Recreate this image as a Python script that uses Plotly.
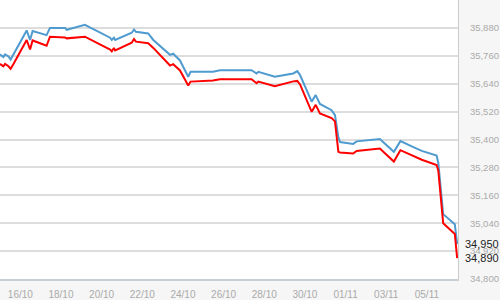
import plotly.graph_objects as go

times = [
    "2021-10-15 00:00", "2021-10-15 04:00", "2021-10-15 06:00", "2021-10-15 10:00",
    "2021-10-15 12:30", "2021-10-15 15:45", "2021-10-16 07:30", "2021-10-16 11:30",
    "2021-10-16 14:30", "2021-10-17 07:00", "2021-10-17 11:00", "2021-10-18 04:45",
    "2021-10-18 06:45", "2021-10-19 04:15", "2021-10-20 10:00", "2021-10-20 12:00",
    "2021-10-20 14:30", "2021-10-20 16:00", "2021-10-21 11:30", "2021-10-21 14:15",
    "2021-10-21 16:30", "2021-10-22 07:00", "2021-10-22 13:00", "2021-10-23 08:45",
    "2021-10-23 12:30", "2021-10-23 20:30", "2021-10-24 06:15", "2021-10-24 09:00",
    "2021-10-25 11:30", "2021-10-25 19:45", "2021-10-27 09:00", "2021-10-27 15:00",
    "2021-10-27 17:00", "2021-10-28 12:30", "2021-10-29 10:15", "2021-10-29 15:00",
    "2021-10-29 18:15", "2021-10-30 08:00", "2021-10-30 12:45", "2021-10-30 17:45",
    "2021-10-31 07:30", "2021-10-31 11:30", "2021-10-31 15:30", "2021-10-31 17:30",
    "2021-11-01 09:00", "2021-11-01 13:00", "2021-11-02 16:30", "2021-11-03 09:00",
    "2021-11-03 16:45", "2021-11-04 10:00", "2021-11-04 18:00", "2021-11-05 11:30",
    "2021-11-05 13:30", "2021-11-05 19:15", "2021-11-06 09:00", "2021-11-06 11:45",
]

blue_values = [
    35766, 35755, 35766, 35757, 35744, 35765, 35869, 35828,
    35867, 35849, 35880, 35880, 35872, 35893, 35838, 35828,
    35838, 35828, 35859, 35873, 35863, 35856, 35828, 35764,
    35769, 35740, 35670, 35691, 35691, 35698, 35698, 35684,
    35691, 35670, 35684, 35694, 35677, 35563, 35591, 35553,
    35526, 35505, 35409, 35389, 35381, 35392, 35402, 35347,
    35393, 35364, 35351, 35331, 35299, 35079, 35035, 34950,
]

red_values = [
    35725, 35715, 35725, 35715, 35704, 35724, 35828, 35787,
    35826, 35803, 35842, 35839, 35835, 35842, 35787, 35779,
    35794, 35783, 35816, 35832, 35821, 35814, 35794, 35718,
    35724, 35697, 35632, 35649, 35654, 35659, 35659, 35642,
    35649, 35629, 35650, 35652, 35637, 35519, 35549, 35512,
    35492, 35478, 35347, 35344, 35340, 35351, 35361, 35305,
    35354, 35324, 35313, 35290, 35266, 35040, 34994, 34890,
]

y_ticks = [34800, 34920, 35040, 35160, 35280, 35400, 35520, 35640, 35760, 35880, 36000]
last_labels = ["34,950", "34,890"]

fig = go.Figure()
fig.add_trace(go.Scatter(x=times, y=blue_values, mode="lines",
                         line=dict(color="#4f9bd0", width=2), showlegend=False))
fig.add_trace(go.Scatter(x=times, y=red_values, mode="lines",
                         line=dict(color="#ff0000", width=2), showlegend=False))

for val, txt in zip([blue_values[-1], red_values[-1]], last_labels):
    fig.add_annotation(x=1, xref="paper", y=val, yref="y", text=txt,
                       showarrow=False, xanchor="left", yanchor="middle", xshift=5,
                       font=dict(family="Liberation Sans, Arial", size=11, color="#222222"))

fig.update_layout(
    width=500, height=300,
    margin=dict(l=0, r=42, t=0, b=9),
    paper_bgcolor="#f6f6f6",
    plot_bgcolor="#ffffff",
    font=dict(family="Liberation Sans, Arial", size=9, color="#aaaaaa"),
    xaxis=dict(
        type="date",
        range=["2021-10-15 00:00", "2021-11-06 12:45"],
        tick0="2021-10-16", dtick=2 * 86400000,
        tickformat="%d/%m",
        showgrid=False, zeroline=False,
        showline=True, linecolor="#c8ced8", linewidth=2,
        ticks="", ticklabelstandoff=5,
        tickfont=dict(size=10, color="#aaaaaa"),
    ),
    yaxis=dict(
        side="right",
        range=[34800, 36000],
        tickvals=y_ticks,
        tickformat=",d",
        showgrid=True, gridcolor="#dddddd", gridwidth=1.5,
        zeroline=False,
        showline=True, linecolor="#cccccc", linewidth=1,
        ticks="", ticklabelstandoff=9,
        tickfont=dict(size=9.5, color="#aaaaaa"),
    ),
)

fig.write_html("out.html")
